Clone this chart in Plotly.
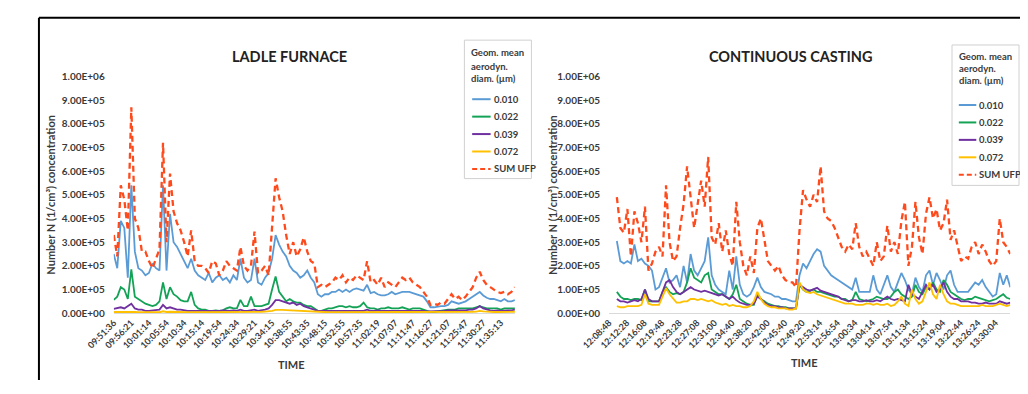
import plotly.graph_objects as go

# Page is 1028x394; the body has an 8px margin, so the figure is sized to fit exactly.
PAGE_W, PAGE_H = 1028, 394
PAD = 8
W, H = PAGE_W - 2 * PAD, PAGE_H - 2 * PAD
SCALE = 1e5

# ---------------- DATA (units of 1e5 particles/cm3) ----------------
lf_ticks = ["09:51:36", "09:56:21", "10:01:14", "10:05:54", "10:10:34", "10:15:14", "10:19:54",
            "10:24:34", "10:29:21", "10:34:15", "10:38:55", "10:43:35", "10:48:15", "10:52:55",
            "10:57:35", "11:02:19", "11:07:07", "11:11:47", "11:16:27", "11:21:07", "11:25:47",
            "11:30:27", "11:35:13"]
cc_ticks = ["12:08:48", "12:12:28", "12:16:08", "12:19:48", "12:23:28", "12:27:08", "12:31:00",
            "12:34:40", "12:38:20", "12:42:00", "12:45:40", "12:49:20", "12:53:14", "12:56:54",
            "13:00:34", "13:04:14", "13:07:54", "13:11:34", "13:15:24", "13:19:04", "13:22:44",
            "13:26:24", "13:30:04"]
series_names = ["0.010", "0.022", "0.039", "0.072", "SUM UFP"]

lf_010 = [2.5, 1.9, 3.9, 3.6, 1.5, 5.4, 2.6, 1.9, 1.8, 1.6,
          1.7, 2.1, 1.9, 1.8, 5.4, 1.8, 4.2, 3.0, 2.8, 2.5,
          2.2, 1.9, 2.3, 1.8, 1.6, 1.5, 1.4, 1.7, 1.3, 1.5,
          1.6, 1.4, 1.5, 1.3, 1.6, 1.4, 2.3, 1.5, 1.3, 1.4,
          2.3, 1.3, 1.2, 1.5, 1.7, 2.3, 3.3, 2.9, 2.6, 2.4,
          2.0, 1.8, 1.7, 1.5, 1.6, 1.8, 1.5, 1.3, 0.8, 0.7,
          0.8, 0.8, 0.9, 0.9, 1.0, 0.9, 1.0, 0.9, 1.0, 1.05,
          1.0, 0.95, 1.2, 0.85, 0.9, 0.8, 0.75, 0.75, 0.8, 0.9,
          0.8, 0.85, 0.9, 0.9, 0.9, 0.85, 0.8, 0.75, 0.7, 0.5,
          0.25, 0.25, 0.28, 0.3, 0.3, 0.35, 0.5, 0.45, 0.4, 0.45,
          0.5, 0.6, 0.7, 0.8, 0.9, 0.75, 0.65, 0.6, 0.6, 0.55,
          0.5, 0.6, 0.5, 0.5, 0.55]
lf_022 = [0.56, 0.7, 1.1, 1.0, 0.6, 1.85, 0.7, 0.6, 0.5, 0.4,
          0.35, 0.3, 0.35, 0.5, 1.3, 0.6, 1.1, 0.8, 0.7, 0.55,
          0.5, 0.5, 0.9, 0.35, 0.2, 0.15, 0.15, 0.1, 0.1, 0.12,
          0.1, 0.12, 0.2, 0.25, 0.2, 0.2, 0.56, 0.3, 0.3, 0.7,
          0.3, 0.3, 0.3, 0.35, 0.4, 1.0, 1.55, 0.9, 0.7, 0.5,
          0.6, 0.5, 0.45, 0.45, 0.35, 0.3, 0.3, 0.2, 0.1, 0.1,
          0.15, 0.2, 0.2, 0.25, 0.3, 0.3, 0.25, 0.3, 0.25, 0.25,
          0.3, 0.45, 0.25, 0.2, 0.2, 0.15, 0.2, 0.2, 0.25, 0.2,
          0.2, 0.2, 0.25, 0.2, 0.15, 0.2, 0.2, 0.2, 0.15, 0.1,
          0.05, 0.05, 0.08, 0.1, 0.12, 0.15, 0.15, 0.15, 0.2, 0.2,
          0.2, 0.2, 0.2, 0.25, 0.3, 0.25, 0.2, 0.2, 0.2, 0.2,
          0.15, 0.2, 0.2, 0.2, 0.2]
lf_039 = [0.18, 0.2, 0.25, 0.2, 0.3, 0.4, 0.2, 0.15, 0.15, 0.1,
          0.1, 0.12, 0.12, 0.15, 0.35, 0.2, 0.25, 0.2, 0.15, 0.15,
          0.12, 0.1, 0.1, 0.1, 0.08, 0.1, 0.1, 0.08, 0.1, 0.1,
          0.1, 0.12, 0.1, 0.1, 0.12, 0.1, 0.15, 0.1, 0.1, 0.12,
          0.15, 0.1, 0.12, 0.15, 0.2, 0.35, 0.55, 0.55, 0.5, 0.45,
          0.4, 0.45, 0.35, 0.4, 0.3, 0.25, 0.2, 0.15, 0.1, 0.1,
          0.1, 0.12, 0.1, 0.1, 0.12, 0.1, 0.1, 0.12, 0.1, 0.1,
          0.12, 0.1, 0.15, 0.1, 0.1, 0.12, 0.1, 0.1, 0.12, 0.1,
          0.1, 0.1, 0.12, 0.1, 0.1, 0.12, 0.1, 0.1, 0.1, 0.08,
          0.08, 0.08, 0.1, 0.1, 0.1, 0.12, 0.12, 0.1, 0.12, 0.12,
          0.12, 0.15, 0.15, 0.2, 0.3, 0.2, 0.15, 0.12, 0.1, 0.12,
          0.1, 0.12, 0.12, 0.12, 0.15]
lf_072 = [0.05, 0.05, 0.06, 0.05, 0.05, 0.08, 0.05, 0.04, 0.04, 0.04,
          0.04, 0.04, 0.04, 0.04, 0.08, 0.05, 0.06, 0.05, 0.05, 0.04,
          0.04, 0.04, 0.04, 0.04, 0.03, 0.03, 0.03, 0.03, 0.03, 0.03,
          0.03, 0.03, 0.04, 0.04, 0.04, 0.04, 0.05, 0.04, 0.04, 0.05,
          0.05, 0.05, 0.06, 0.07, 0.08, 0.1, 0.14, 0.15, 0.14, 0.13,
          0.12, 0.12, 0.11, 0.1, 0.09, 0.08, 0.07, 0.06, 0.04, 0.04,
          0.04, 0.04, 0.04, 0.04, 0.05, 0.05, 0.05, 0.05, 0.05, 0.05,
          0.05, 0.05, 0.06, 0.05, 0.05, 0.05, 0.05, 0.04, 0.04, 0.05,
          0.05, 0.05, 0.05, 0.05, 0.05, 0.05, 0.04, 0.04, 0.04, 0.03,
          0.03, 0.03, 0.03, 0.03, 0.04, 0.04, 0.05, 0.05, 0.05, 0.05,
          0.05, 0.06, 0.06, 0.07, 0.1, 0.08, 0.06, 0.05, 0.05, 0.05,
          0.05, 0.05, 0.05, 0.05, 0.06]
lf_sum = [3.3, 2.4, 5.4, 4.8, 3.5, 8.7, 4.0, 3.6, 2.6, 2.6,
          2.2, 1.9, 2.3, 2.7, 7.2, 3.0, 5.9, 4.3, 3.8, 3.5,
          3.0, 2.4, 3.5, 2.2, 2.0, 2.0, 1.9, 1.7, 2.2, 2.1,
          1.6, 1.8, 2.2, 2.0, 1.9, 1.8, 2.8, 2.0, 1.8, 2.0,
          3.45, 1.7, 1.8, 2.0, 1.6, 3.5, 5.7, 4.9, 4.3, 3.3,
          2.5, 3.0, 2.4, 2.7, 3.2, 2.6, 2.2, 2.1, 1.1, 1.2,
          1.1, 1.2, 1.3, 1.5, 1.4, 1.6, 1.3, 1.5, 1.4, 1.6,
          1.5, 1.4, 2.2, 1.3, 1.4, 1.2, 1.5, 1.1, 1.3, 1.2,
          1.1, 1.3, 1.5, 1.4, 1.5, 1.3, 1.2, 1.1, 0.9, 0.7,
          0.35, 0.4, 0.35, 0.45, 0.4, 0.6, 0.8, 0.6, 0.7, 0.55,
          0.7, 0.9, 1.1, 1.5, 1.75, 1.4, 1.2, 1.1, 1.0, 0.9,
          0.85, 0.9, 0.8, 0.9, 1.1]

cc_010 = [3.05, 2.2, 2.1, 2.2, 2.1, 2.9, 2.2, 2.3, 2.1, 2.0,
          1.8, 1.0, 1.1, 1.5, 1.9, 1.3, 1.4, 1.6, 1.1, 2.0,
          1.3, 2.5, 1.8, 1.6, 1.9, 2.2, 3.2, 1.6, 1.2, 1.0,
          0.9, 0.8, 1.8, 1.0, 2.4, 1.2, 0.8, 0.7, 0.8, 1.1,
          1.5, 1.1, 0.9, 0.85, 0.8, 0.7, 0.7, 0.6, 0.6, 0.55,
          0.5, 0.5, 1.6, 2.1, 1.9, 2.2, 2.5, 2.7, 2.6, 2.0,
          1.8, 1.6, 1.5, 1.4, 1.3, 1.2, 1.1, 1.0, 1.5, 0.9,
          0.9, 0.9, 0.9, 1.6, 1.0, 0.8, 1.2, 1.6, 1.1, 0.9,
          1.3, 1.7, 1.4, 1.0, 0.8, 1.5, 1.1, 0.9, 1.6, 1.8,
          1.2, 1.7, 1.4, 1.0, 1.6, 1.8, 1.2, 0.9, 0.9, 0.9,
          0.9, 1.1, 1.3, 1.2, 1.4, 1.1, 0.9, 0.7, 0.8, 1.7,
          1.2, 1.6, 1.1]
cc_022 = [0.9, 0.7, 0.6, 0.6, 0.55, 0.6, 0.6, 0.55, 1.0, 0.5,
          0.5, 0.5, 0.5, 0.9, 1.1, 0.9, 0.8, 0.85, 0.8, 0.9,
          1.3, 1.9, 1.5, 1.4, 1.3, 1.6, 1.7, 1.0, 0.9, 0.8,
          0.8, 0.7, 0.6, 0.8, 1.2, 0.6, 0.5, 0.4, 0.35, 0.35,
          0.8, 0.6, 0.5, 0.4, 0.35, 0.3, 0.3, 0.25, 0.25, 0.2,
          0.2, 0.2, 1.2, 1.0, 0.9, 0.95, 1.0, 0.9, 0.9, 0.85,
          0.8, 0.75, 0.7, 0.7, 0.6, 0.6, 0.5, 0.55, 0.9, 0.6,
          0.55, 0.5, 0.55, 0.6, 0.7, 0.65, 0.6, 0.6, 0.7, 0.9,
          1.0, 0.8, 0.7, 0.6, 0.7, 1.2, 0.9, 0.8, 1.1, 1.0,
          1.3, 1.0, 0.9, 1.4, 1.2, 0.9, 0.8, 0.7, 0.6, 0.55,
          0.6, 0.6, 0.7, 0.65, 0.6, 0.55, 0.5, 0.55, 0.6, 0.7,
          0.8, 0.65, 0.6]
cc_039 = [0.6, 0.5, 0.5, 0.45, 0.5, 0.55, 0.5, 0.6, 1.0, 0.6,
          0.5, 0.5, 0.5, 0.9, 1.3, 1.4, 1.1, 0.9, 0.8, 0.9,
          1.0, 1.1, 1.0, 0.95, 0.9, 0.95, 0.9, 0.85, 0.8, 0.75,
          0.8, 0.7, 0.6, 0.7, 0.55, 0.45, 0.4, 0.35, 0.35, 0.4,
          0.7, 0.6, 0.45, 0.35, 0.3, 0.3, 0.25, 0.25, 0.2, 0.2,
          0.2, 0.2, 1.2, 1.1, 1.0, 0.95, 1.0, 1.07, 0.95, 0.9,
          0.85, 0.8, 0.75, 0.7, 0.6, 0.55, 0.5, 0.55, 0.55, 0.5,
          0.5, 0.55, 0.5, 0.5, 0.55, 0.5, 0.6, 0.7, 0.6, 0.55,
          0.6, 0.55, 0.5, 1.2, 0.8, 0.7, 0.6, 0.9, 1.2, 1.0,
          1.2, 0.9, 1.0, 1.3, 0.9, 0.7, 0.6, 0.6, 0.5, 0.5,
          0.5, 0.45, 0.45, 0.4, 0.4, 0.45, 0.4, 0.4, 0.4, 0.5,
          0.45, 0.4, 0.45]
cc_072 = [0.3, 0.25, 0.25, 0.3, 0.3, 0.3, 0.3, 0.35, 0.8, 0.4,
          0.35, 0.35, 0.35, 0.7, 1.05, 0.8, 0.6, 0.45, 0.45, 0.5,
          0.5, 0.6, 0.6, 0.55, 0.6, 0.55, 0.5, 0.55, 0.45, 0.4,
          0.35, 0.4, 0.3, 0.35, 0.3, 0.3, 0.25, 0.25, 0.3, 0.5,
          0.9, 0.6, 0.4, 0.3, 0.25, 0.25, 0.2, 0.2, 0.2, 0.15,
          0.15, 0.2, 1.3, 1.0, 0.9, 0.85, 0.9, 0.8, 0.75, 0.7,
          0.65, 0.6, 0.55, 0.5, 0.45, 0.4, 0.4, 0.4, 0.35, 0.35,
          0.35, 0.4, 0.4, 0.35, 0.4, 0.35, 0.35, 0.4, 0.3, 0.35,
          0.5, 0.7, 0.4, 0.3, 1.0, 0.6, 0.4, 0.5, 0.9, 1.3,
          0.8, 0.6, 1.2, 0.8, 0.5, 0.4, 0.4, 0.35, 0.3, 0.3,
          0.3, 0.3, 0.3, 0.3, 0.35, 0.3, 0.3, 0.3, 0.35, 0.4,
          0.35, 0.3, 0.35]
cc_sum = [4.9, 3.6, 3.4, 4.4, 2.4, 4.3, 3.8, 3.0, 4.5, 1.8,
          2.1, 2.6, 2.8, 2.4, 5.4, 3.0, 2.2, 2.4, 3.6, 4.6,
          6.2, 4.8, 3.6, 4.6, 5.6, 4.5, 6.6, 3.2, 2.9, 3.8,
          2.6, 3.5, 2.5, 2.0, 4.7, 3.0, 2.0, 1.6, 2.4, 1.7,
          3.6, 4.0, 3.0, 2.2, 2.0, 1.8, 2.0, 1.6, 1.4, 1.3,
          1.3, 1.1, 3.5, 5.2, 4.8, 4.5, 5.0, 4.7, 6.2, 4.3,
          4.0, 3.9, 3.6, 3.2, 2.8, 2.6, 2.9, 2.7, 3.8, 2.8,
          2.4, 2.6, 2.3, 2.0, 3.0, 2.2, 2.4, 3.7, 2.6, 3.0,
          2.5, 3.9, 4.7, 2.0, 2.8, 4.7, 3.2, 2.5, 4.2, 4.9,
          4.0, 4.4, 3.5, 3.8, 4.8, 3.1, 3.5, 2.9, 2.2, 2.4,
          2.3, 2.8, 3.0, 2.5, 2.9, 2.6, 2.2, 2.0, 2.2, 4.0,
          3.0, 2.8, 2.5]

y_tickvals = [0, 1e5, 2e5, 3e5, 4e5, 5e5, 6e5, 7e5, 8e5, 9e5, 1e6]
TICK_STEP = 5          # one time label every 5 samples
CC_TICK_LEAD = 2.2     # casting labels sit ~2 samples before the first sample

# ---------------- STYLE ----------------
FONT = "Lato, 'Open Sans', sans-serif"
TXT = "#3a3a3a"
colors = ["#5B9BD5", "#14A356", "#7030A0", "#FFC000", "#FF4A1C"]


def px_x(p):
    """page pixel x -> paper fraction"""
    return (p - PAD) / W


def px_y(p):
    """page pixel y (from top) -> paper fraction"""
    return (H - (p - PAD)) / H


fig = go.Figure()

panels = [
    dict(data=[lf_010, lf_022, lf_039, lf_072, lf_sum], xa="x", ya="y"),
    dict(data=[cc_010, cc_022, cc_039, cc_072, cc_sum], xa="x2", ya="y2"),
]

for p in panels:
    for k, (name, vals) in enumerate(zip(series_names, p["data"])):
        is_sum = name == "SUM UFP"
        fig.add_trace(go.Scatter(
            x=list(range(len(vals))), y=[v * SCALE for v in vals],
            mode="lines", name=name, showlegend=False,
            xaxis=p["xa"], yaxis=p["ya"],
            line=dict(color=colors[k], width=2.3 if is_sum else 1.8,
                      dash="6px,4px" if is_sum else "solid"),
        ))

y_dom = [px_y(317), px_y(72.5)]


def xaxis_cfg(dom, rng, tickvals, ticks, anchor):
    return dict(domain=dom, range=rng, anchor=anchor,
                tickmode="array", tickvals=tickvals,
                ticktext=ticks, tickangle=-45, showgrid=False, zeroline=False,
                showline=True, linecolor="#d9d9d9", linewidth=1, ticks="",
                tickfont=dict(family=FONT, size=9, color=TXT, weight="bold"))


def yaxis_cfg(anchor):
    return dict(domain=y_dom, range=[0, 1e6], anchor=anchor,
                tickmode="array", tickvals=y_tickvals,
                ticktext=[f"{v:.2E}" for v in y_tickvals],
                showgrid=False, zeroline=False, showline=False, ticks="",
                ticklabelstandoff=8,
                tickfont=dict(family=FONT, size=10, color=TXT, weight="bold"))


fig.update_layout(
    width=W, height=H, margin=dict(l=0, r=0, t=0, b=0),
    paper_bgcolor="white", plot_bgcolor="white", showlegend=False,
    xaxis=xaxis_cfg([px_x(87), px_x(500)], [0, len(lf_sum) - 1],
                    [i * TICK_STEP for i in range(len(lf_ticks))], lf_ticks, "y"),
    yaxis=yaxis_cfg("x"),
    xaxis2=xaxis_cfg([px_x(597), min(1.0, px_x(1010))], [-CC_TICK_LEAD, len(cc_sum) - 1],
                     [i * TICK_STEP - CC_TICK_LEAD for i in range(len(cc_ticks))], cc_ticks, "y2"),
    yaxis2=yaxis_cfg("x2"),
)

ann = []
shapes = []


def text(x, y, s, size=10, anchor="center", angle=0, color=TXT):
    ann.append(dict(x=px_x(x), y=px_y(y), xref="paper", yref="paper", text=s,
                    showarrow=False, xanchor=anchor, yanchor="middle", textangle=angle,
                    font=dict(family=FONT, size=size, color=color, weight="bold")))


# titles
text(268, 52, "LADLE FURNACE", size=14.5, color="#222")
text(784, 52, "CONTINUOUS CASTING", size=14.5, color="#222")
# axis titles
text(21, 195, "Number N (1/cm³) concentration", size=11, angle=-90)
text(538, 195, "Number N (1/cm³) concentration", size=11, angle=-90)
text(270, 370, "TIME", size=11)
text(798, 368, "TIME", size=11)


# manual legends
def legend(x0, y0, x1, y1, tx, title_ys, item_ys, lx0, lx1):
    shapes.append(dict(type="rect", xref="paper", yref="paper",
                       x0=px_x(x0), x1=px_x(x1), y0=px_y(y1), y1=px_y(y0),
                       line=dict(color="#d0d0d0", width=1), fillcolor="white"))
    for s, yy in zip(["Geom. mean", "aerodyn.", "diam. (µm)"], title_ys):
        text(tx, yy, s, size=9.5, anchor="left")
    for k, (name, yy) in enumerate(zip(series_names, item_ys)):
        shapes.append(dict(type="line", xref="paper", yref="paper",
                           x0=px_x(lx0), x1=px_x(lx1), y0=px_y(yy), y1=px_y(yy),
                           line=dict(color=colors[k], width=2,
                                     dash="5px,3px" if name == "SUM UFP" else "solid")))
        text(lx1 + 1, yy, name, size=9.5, anchor="left")


legend(448, 35, 517, 178, 453, [48, 62, 75], [96, 114, 132, 150, 168], 456, 475)
legend(950, 40, 1019, 185, 955, [52, 64, 77], [102, 120, 138, 156, 174], 957, 975)

# outer frame
shapes.append(dict(type="line", xref="paper", yref="paper", x0=px_x(10), x1=1.0,
                   y0=px_y(12), y1=px_y(12), line=dict(color="black", width=2)))
shapes.append(dict(type="line", xref="paper", yref="paper", x0=px_x(10), x1=px_x(10),
                   y0=0, y1=px_y(12), line=dict(color="black", width=2)))

fig.update_layout(annotations=ann, shapes=shapes)
fig.write_html("out.html")
